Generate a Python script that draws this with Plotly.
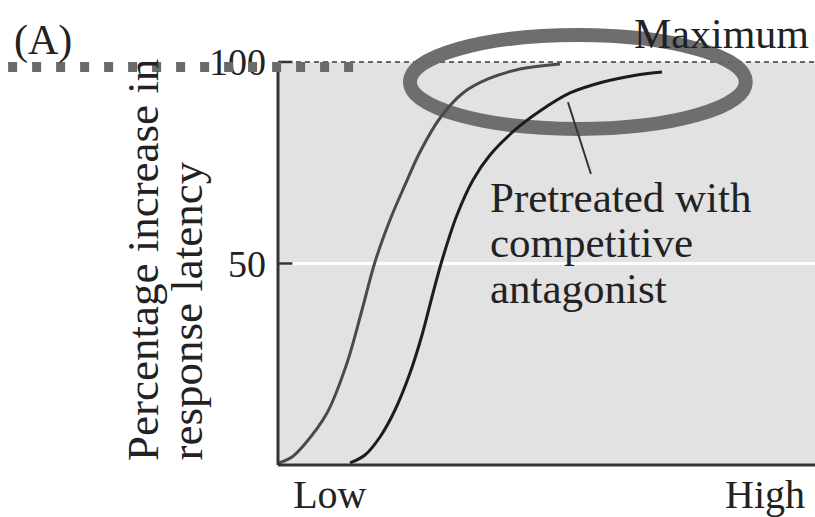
import plotly.graph_objects as go

# ---- data ----
agonist_x = [0.19, 2.62, 4.87, 9.18, 12.92, 15.73, 18.16, 20.97, 23.78, 26.59, 30.34, 34.64, 39.33, 45.32, 52.81]
agonist_y = [0.5, 1.99, 4.96, 12.90, 25.31, 38.46, 50.37, 60.79, 69.48, 77.67, 86.10, 92.31, 95.78, 98.26, 99.50]

antag_x = [13.48, 16.29, 19.10, 21.91, 24.72, 26.97, 29.03, 30.90, 33.52, 36.52, 39.70, 44.38, 49.06, 54.68, 60.86, 67.23, 71.91]
antag_y = [0.5, 2.48, 6.95, 13.65, 22.83, 32.26, 42.68, 51.61, 62.03, 70.72, 76.92, 83.13, 87.84, 92.31, 95.04, 96.77, 97.52]

y_tick_vals = [50, 100]
y_tick_text = ["50", "100"]
x_tick_vals = [9.7, 91.2]
x_tick_text = ["Low", "High"]

FONT = "Liberation Serif"
TXT = "#222222"

fig = go.Figure()
fig.add_trace(go.Scatter(x=agonist_x, y=agonist_y, mode="lines", line=dict(color="#4a4a4a", width=3, shape="spline", smoothing=1.0), hoverinfo="skip"))
fig.add_trace(go.Scatter(x=antag_x, y=antag_y, mode="lines", line=dict(color="#1c1c1c", width=3, shape="spline", smoothing=1.0), hoverinfo="skip"))

XR = [-1.124, 100.56]
YR = [-1.489, 115.38]

shapes = [
    dict(type="rect", xref="x", yref="y", x0=0, x1=XR[1], y0=0, y1=100, fillcolor="#e2e2e2", line=dict(width=0), layer="below"),
    dict(type="line", xref="x", yref="y", x0=0, x1=XR[1], y0=50, y1=50, line=dict(color="white", width=3), layer="below"),
    dict(type="line", xref="x", yref="y", x0=0, x1=XR[1], y0=100, y1=100, line=dict(color="#666666", width=2, dash="5px,4px"), layer="above"),
    dict(type="circle", xref="x", yref="y", x0=24.7, x1=87.6, y0=83.4, y1=106.7, line=dict(color="#6e6e6e", width=14), layer="between"),
    dict(type="line", xref="x", yref="y", x0=54.3, y0=90.0, x1=58.6, y1=72.2, line=dict(color="#333333", width=2), layer="above"),
    dict(type="line", xref="x", yref="y", x0=0, x1=0, y0=0, y1=100, line=dict(color="#333333", width=3), layer="above"),
    dict(type="line", xref="x", yref="y", x0=0, x1=XR[1], y0=0, y1=0, line=dict(color="#333333", width=3), layer="above"),
    dict(type="line", xref="x", yref="y", x0=0, x1=2.7, y0=50, y1=50, line=dict(color="#333333", width=2.5), layer="above"),
    dict(type="line", xref="x", yref="y", x0=0, x1=2.7, y0=100, y1=100, line=dict(color="#333333", width=2.5), layer="above"),
    dict(type="line", xref="paper", yref="paper", x0=-0.486, x1=0.166, y0=0.8577, y1=0.8577, line=dict(color="#6a6a6a", width=10, dash="9px,15px"), layer="above"),
]

annotations = [
    dict(text="(A)", xref="paper", yref="paper", x=-0.4217, y=0.915, showarrow=False, xanchor="center", yanchor="middle", font=dict(family=FONT, size=42, color=TXT)),
    dict(text="Maximum", xref="x", yref="y", x=99.8, y=107.0, showarrow=False, xanchor="right", yanchor="middle", font=dict(family=FONT, size=42, color=TXT)),
    dict(text="Pretreated with", xref="x", yref="y", x=39.3, y=(465 - 198) / 4.03, showarrow=False, xanchor="left", yanchor="middle", font=dict(family=FONT, size=43, color=TXT)),
    dict(text="competitive", xref="x", yref="y", x=39.3, y=(465 - 243) / 4.03, showarrow=False, xanchor="left", yanchor="middle", font=dict(family=FONT, size=43, color=TXT)),
    dict(text="antagonist", xref="x", yref="y", x=39.3, y=(465 - 289) / 4.03, showarrow=False, xanchor="left", yanchor="middle", font=dict(family=FONT, size=43, color=TXT)),
    dict(text="Percentage increase in", xref="paper", yref="y", x=(143 - 272) / 543, y=0.5, textangle=-90, showarrow=False, xanchor="center", yanchor="bottom", font=dict(family=FONT, size=45, color=TXT)),
    dict(text="response latency", xref="paper", yref="y", x=(187 - 272) / 543, y=0.5, textangle=-90, showarrow=False, xanchor="center", yanchor="bottom", font=dict(family=FONT, size=45, color=TXT)),
]

fig.update_layout(
    width=815, height=517, autosize=False,
    margin=dict(l=272, r=0, t=0, b=46, pad=0, autoexpand=False),
    paper_bgcolor="white", plot_bgcolor="white",
    showlegend=False,
    shapes=shapes, annotations=annotations,
    xaxis=dict(range=XR, showgrid=False, zeroline=False, showline=False, ticks="", automargin=False,
               tickmode="array", tickvals=x_tick_vals, ticktext=x_tick_text, ticklabelstandoff=-4,
               tickfont=dict(family=FONT, size=40, color=TXT), fixedrange=True),
    yaxis=dict(range=YR, showgrid=False, zeroline=False, showline=False, ticks="", automargin=False,
               tickmode="array", tickvals=y_tick_vals, ticktext=y_tick_text, ticklabelstandoff=5,
               tickfont=dict(family=FONT, size=38, color=TXT), fixedrange=True),
)

fig.write_html("out.html", config={"displayModeBar": False},
               post_script="document.body.style.margin='0';document.body.style.padding='0';")
